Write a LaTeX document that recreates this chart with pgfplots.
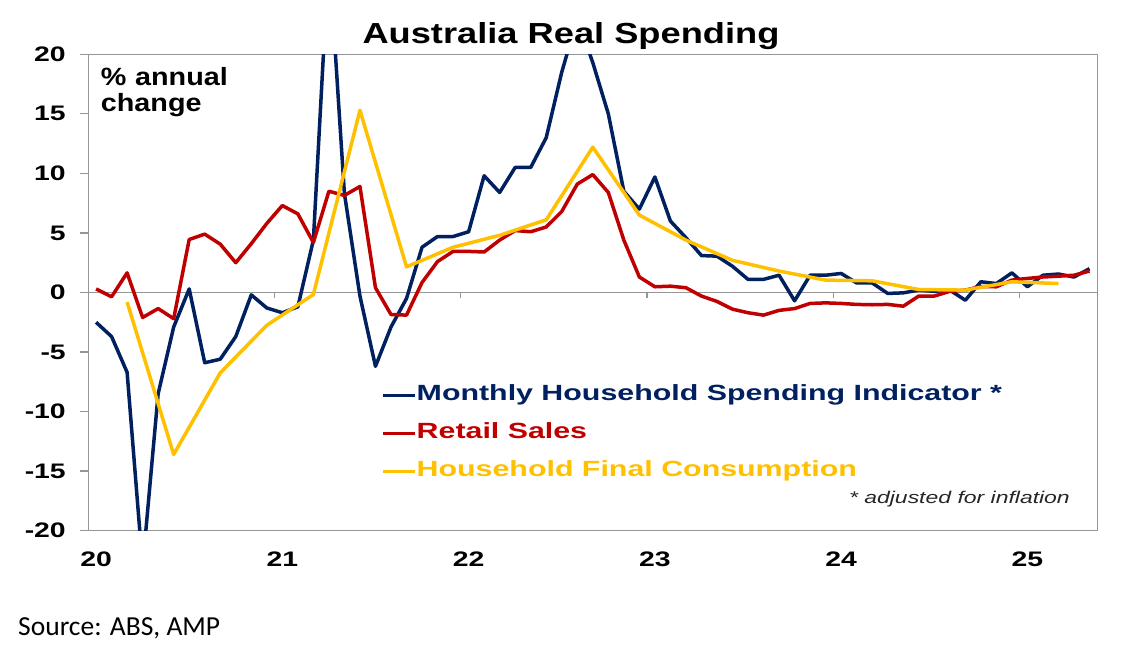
\documentclass[border=0pt]{standalone}
\usepackage{fontspec}
\setmainfont{Liberation Sans}
\newfontfamily\chartfont[FakeStretch=1.35]{Liberation Sans}
\newfontfamily\titlefont[FakeStretch=1.25]{Liberation Sans}
\newfontfamily\annotfont[FakeStretch=1.15]{Liberation Sans}
\newfontfamily\legfont[FakeStretch=1.38]{Liberation Sans}
\newfontfamily\srcfont{Carlito}
\usepackage{pgfplots}
\usepackage{pgfplotstable}
\pgfplotsset{compat=1.18}
\definecolor{hsiblue}{RGB}{0,32,96}
\definecolor{rsred}{RGB}{192,0,0}
\definecolor{hfcgold}{RGB}{255,192,0}
\definecolor{axgray}{RGB}{150,150,150}

% month index: 0 = Jan 2020
\pgfplotstableread{
m v
0 -2.5
1 -3.7
2 -6.7
3 -23.0
4 -8.5
5 -2.9
6 0.3
7 -5.9
8 -5.6
9 -3.7
10 -0.2
11 -1.3
12 -1.7
13 -1.2
14 4.4
15 28.5
16 8.3
17 -0.3
18 -6.2
19 -2.9
20 -0.5
21 3.8
22 4.7
23 4.7
24 5.1
25 9.8
26 8.4
27 10.5
28 10.5
29 13.0
30 18.5
31 23.0
32 19.3
33 15.0
34 8.5
35 7.0
36 9.7
37 6.0
38 4.6
39 3.1
40 3.05
41 2.2
42 1.1
43 1.1
44 1.45
45 -0.7
46 1.45
47 1.45
48 1.6
49 0.8
50 0.8
51 -0.08
52 -0.03
53 0.2
54 0.1
55 0.2
56 -0.65
57 0.9
58 0.75
59 1.65
60 0.48
61 1.45
62 1.55
63 1.3
64 2.0
}\hsi

\pgfplotstableread{
m v
0 0.3
1 -0.36
2 1.65
3 -2.1
4 -1.35
5 -2.2
6 4.45
7 4.9
8 4.06
9 2.5
10 4.1
11 5.8
12 7.3
13 6.6
14 4.2
15 8.5
16 8.15
17 8.9
18 0.4
19 -1.85
20 -1.9
21 0.84
22 2.6
23 3.45
24 3.45
25 3.4
26 4.4
27 5.2
28 5.1
29 5.5
30 6.8
31 9.1
32 9.9
33 8.4
34 4.4
35 1.3
36 0.48
37 0.53
38 0.4
39 -0.3
40 -0.75
41 -1.4
42 -1.7
43 -1.9
44 -1.5
45 -1.35
46 -0.92
47 -0.87
48 -0.92
49 -1.0
50 -1.03
51 -1.0
52 -1.15
53 -0.3
54 -0.3
55 0.1
56 0.2
57 0.5
58 0.48
59 1.04
60 1.18
61 1.3
62 1.37
63 1.45
64 1.8
}\retail

\pgfplotstableread{
m v
2 -0.8
5 -13.6
8 -6.75
11 -2.75
14 -0.17
17 15.3
20 2.15
23 3.8
26 4.8
29 6.1
32 12.2
35 6.5
38 4.4
41 2.7
44 1.8
47 1.04
50 0.98
53 0.25
56 0.2
59 0.9
62 0.75
}\hfc

\begin{document}
\begin{tikzpicture}[x=1pt,y=1pt]
\begin{axis}[
  scale only axis, width=1009pt, height=476.4pt,
  xmin=-0.5, xmax=64.5, ymin=-20, ymax=20,
  axis line style={axgray, line width=1.3pt},
  xtick={0,12,24,36,48,60},
  xticklabels={20,21,22,23,24,25},
  xtick style={draw=none},
  ytick={-20,-15,-10,-5,0,5,10,15,20},
  ytick pos=left, tick align=outside,
  ytick style={axgray, line width=1.3pt},
  major tick length=8pt,
  /pgf/number format/assume math mode=true,
  ticklabel style={font=\chartfont\bfseries\fontsize{21}{21}\selectfont, text=black},
  xticklabel style={yshift=-10pt},
  yticklabel style={xshift=-11pt},
  legend style={at={(rel axis cs:0.2906,0.307)}, anchor=north west, draw=none, fill=none,
     font=\legfont\bfseries\fontsize{22}{22}\selectfont, inner sep=0pt,
     row sep=17pt,
     nodes={inner sep=0pt, text height=16pt, text depth=5pt}},
  legend cell align=left,
  legend image code/.code={\draw[#1, line width=3pt] (0pt,0pt) -- (32pt,0pt);},
  /tikz/every even column/.append style={column sep=2pt},
  line join=round,
]
\coordinate (ax) at (rel axis cs:0,0);
\draw[axgray, line width=1.3pt] (axis cs:-0.5,0) -- (axis cs:64.5,0);
\draw[axgray, line width=1.3pt] (axis cs:11.5,0) -- (axis cs:11.5,-0.5);
\draw[axgray, line width=1.3pt] (axis cs:23.5,0) -- (axis cs:23.5,-0.5);
\draw[axgray, line width=1.3pt] (axis cs:35.5,0) -- (axis cs:35.5,-0.5);
\draw[axgray, line width=1.3pt] (axis cs:47.5,0) -- (axis cs:47.5,-0.5);
\draw[axgray, line width=1.3pt] (axis cs:59.5,0) -- (axis cs:59.5,-0.5);
\addplot[hsiblue, line width=3.5pt] table[x=m,y=v] {\hsi};
\addlegendentry{\textcolor{hsiblue}{Monthly Household Spending Indicator *}}
\addplot[rsred, line width=3.5pt] table[x=m,y=v] {\retail};
\addlegendentry{\textcolor{rsred}{Retail Sales}}
\addplot[hfcgold, line width=3.5pt] table[x=m,y=v] {\hfc};
\addlegendentry{\textcolor{hfcgold}{Household Final Consumption}}
\end{axis}
\pgfresetboundingbox
\begin{scope}[shift={(ax)}, xshift=-88.3pt, yshift=-121.3pt]
\useasboundingbox (0,0) rectangle (1133,652);
\node[anchor=base, inner sep=0pt, font=\titlefont\bfseries\fontsize{29}{29}\selectfont] at (571,608) {Australia Real Spending};
\node[anchor=base west, inner sep=0pt, font=\annotfont\bfseries\fontsize{25}{25}\selectfont] at (100.7,566) {\%\hspace{0.35em}annual};
\node[anchor=base west, inner sep=0pt, font=\annotfont\bfseries\fontsize{25}{25}\selectfont] at (100.7,540) {change};
\node[anchor=base east, inner sep=0pt, font=\chartfont\itshape\fontsize{17}{17}\selectfont, text=black!85] at (1070,148) {* adjusted for inflation};
\node[anchor=base west, inner sep=0pt, font=\srcfont\fontsize{27.5}{27.5}\selectfont] at (18,16) {Source: ABS, AMP};
\end{scope}
\end{tikzpicture}
\end{document}
